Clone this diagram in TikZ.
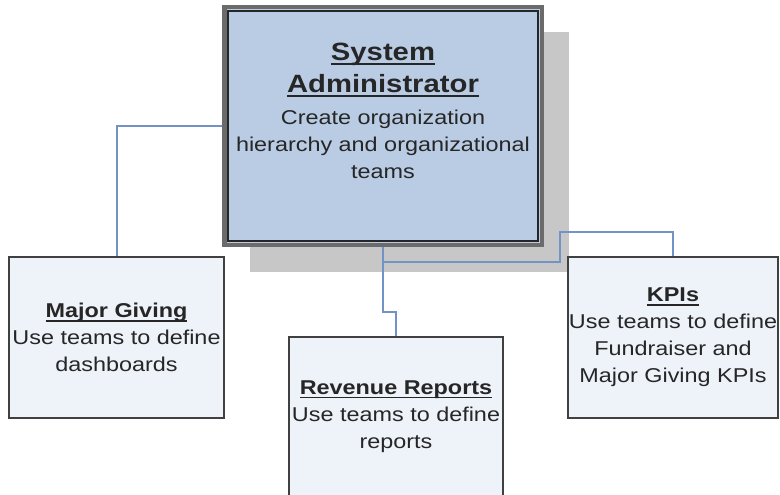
\documentclass[tikz,border=0pt]{standalone}
\usepackage{fontspec}
\setmainfont[FakeStretch=1.17]{Liberation Sans}
\newcommand\myul[1]{\setbox0\hbox{#1}\rlap{\rule[-4pt]{\wd0}{1.8pt}}\box0}
\newcommand\titlefont{\fontsize{25}{32}\selectfont\bfseries}
\begin{document}
\begin{tikzpicture}[x=1pt,y=-1pt,
  smallbox/.style={draw=black!75,line width=1.3pt,fill=boxfill,minimum width=#1,inner sep=0pt,align=center,
    font=\fontsize{20}{27}\selectfont,text=black!85},
  conn/.style={draw=connblue,line width=2pt},
  sablock/.style={align=center,text=black!85,inner sep=0pt,font=\fontsize{20}{27}\selectfont}]
\definecolor{boxfill}{HTML}{EEF2F9}
\definecolor{mainfill}{HTML}{B9CCE4}
\definecolor{connblue}{HTML}{7393C6}
\definecolor{shadowgray}{HTML}{C7C7C7}
\useasboundingbox (0,0) rectangle (780,495);
\begin{scope}
\clip (0,0) rectangle (780,495);
% shadow
\fill[shadowgray] (250,32) rectangle (569,272);
% main box
\node[draw=black!58,line width=4.5pt,fill=mainfill,minimum width=317.5pt,minimum height=237.5pt,inner sep=0pt] (sa) at (383,126) {};
\draw[black!85,line width=1.4pt] ([shift={(6,6)}]sa.north west) rectangle ([shift={(-6,-6)}]sa.south east);
\node[sablock,anchor=north] (satext) at (383,43) {\titlefont\myul{System}\\[5pt]\titlefont\myul{Administrator}\\[5pt]
  Create organization\\hierarchy and organizational\\teams};
% small boxes
\node[smallbox=215pt,minimum height=161pt] (mg) at (116.5,337.5) {\textbf{\myul{Major Giving}}\\Use teams to define\\dashboards};
\node[smallbox=214pt,minimum height=159pt] (rr) at (396,416.5) {\textbf{\myul{Revenue Reports}}\\Use teams to define\\reports};
\node[smallbox=210pt,minimum height=161pt] (kp) at (673,337.5) {\textbf{\myul{KPIs}}\\Use teams to define\\Fundraiser and\\Major Giving KPIs};
% connectors
\coordinate (r1) at (0,312);
\coordinate (k1) at (0,262);
\coordinate (k2) at (560,232);
\draw[conn] (sa.west) -| (mg.north);
\draw[conn] (sa.south) -- (sa.south |- r1) -| (rr.north);
\draw[conn] (sa.south |- k1) -| (k2) -| (kp.north);
\end{scope}
\end{tikzpicture}
\end{document}
